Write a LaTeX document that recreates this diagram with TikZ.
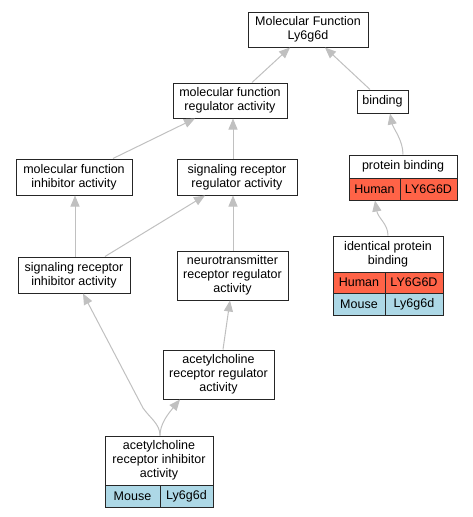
\documentclass[tikz,border=0pt]{standalone}
\usepackage{fontspec}
\setmainfont{Liberation Sans}
\usetikzlibrary{arrows.meta}
\definecolor{edgegray}{HTML}{C0C0C0}
\definecolor{human}{HTML}{FF6347}
\definecolor{mouse}{HTML}{ADD8E6}
\begin{document}
\begin{tikzpicture}[x=1pt,y=-1pt,
  font=\fontsize{12.5}{14}\selectfont,
  box/.style={draw=black!85,line width=1pt,fill=white,align=center,inner sep=0pt},
  hcell/.style={box,fill=human,minimum height=21pt},
  mcell/.style={box,fill=mouse,minimum height=22pt},
  edge/.style={draw=edgegray,line width=1pt,-{Triangle[length=11pt,width=9pt]}}]
\useasboundingbox (0,0) rectangle (472,517);
% nodes
\node[box,minimum width=120pt,minimum height=35pt] (mf) at (308,29.5) {Molecular Function\\Ly6g6d};
\node[box,minimum width=114pt,minimum height=35pt] (mfra) at (230,100.5) {molecular function\\regulator activity};
\node[box,minimum width=51pt,minimum height=23pt] (binding) at (382.5,101.5) {binding};
\node[box,minimum width=116pt,minimum height=36pt] (mfia) at (74,177) {molecular function\\inhibitor activity};
\node[box,minimum width=120pt,minimum height=36pt] (srra) at (237,177) {signaling receptor\\regulator activity};
\node[box,minimum width=112pt,minimum height=36pt] (sria) at (74,275) {signaling receptor\\inhibitor activity};
\node[box,minimum width=111pt,minimum height=49pt] (ntrra) at (232.5,275.5) {neurotransmitter\\receptor regulator\\activity};
\node[box,minimum width=111pt,minimum height=49pt] (acrra) at (218.5,374.5) {acetylcholine\\receptor regulator\\activity};
% protein binding
\node[box,minimum width=108pt,minimum height=23pt] (pb) at (403,166.5) {protein binding};
\node[hcell,minimum width=51pt,minimum height=22pt] (pbh) at (374.5,189) {Human};
\node[hcell,minimum width=57pt,minimum height=22pt] (pbg) at (428.5,189) {LY6G6D};
% identical protein binding
\node[box,minimum width=110pt,minimum height=36pt] (ipb) at (388,254) {identical protein\\binding};
\node[hcell,minimum width=52pt] (ipbh) at (359,282.5) {Human};
\node[hcell,minimum width=58pt] (ipbg) at (414,282.5) {LY6G6D};
\node[mcell,minimum width=52pt] (ipbm) at (359,304) {Mouse};
\node[mcell,minimum width=58pt] (ipbmg) at (414,304) {Ly6g6d};
% acetylcholine receptor inhibitor activity
\node[box,minimum width=108pt,minimum height=49pt] (acria) at (159,460.5) {acetylcholine\\receptor inhibitor\\activity};
\node[mcell,minimum width=55pt] (acriam) at (132.5,496) {Mouse};
\node[mcell,minimum width=53pt] (acriag) at (186.5,496) {Ly6g6d};
% edges
\draw[edge] ([xshift=22pt]mfra.north) -- ([xshift=-18pt]mf.south);
\draw[edge] ([xshift=-12.5pt]binding.north) -- ([xshift=17pt]mf.south);
\draw[edge] ([xshift=39pt]mfia.north) -- ([xshift=-35pt]mfra.south);
\draw[edge] ([xshift=-4pt]srra.north) -- ([xshift=3pt]mfra.south);
\draw[edge] ([xshift=1pt]sria.north) -- ([xshift=1pt]mfia.south);
\draw[edge] ([xshift=31pt]sria.north) -- ([xshift=-32pt]srra.south);
\draw[edge] ([xshift=0.5pt]ntrra.north) -- ([xshift=-4pt]srra.south);
\draw[edge] ([xshift=4.5pt]acrra.north) -- ([xshift=-2.5pt]ntrra.south);
\draw[edge] ([xshift=1pt]acria.north) .. controls (160,424) and (150,418) .. (143,408) -- ([xshift=9pt]sria.south);
\draw[edge] ([xshift=1pt]acria.north) .. controls (160,424) and (168,414) .. ([xshift=-38.5pt]acrra.south);
\draw[edge] (ipb.north) .. controls (388,224) and (378,218) .. ([xshift=0.5pt]pbh.south);
\draw[edge] (pb.north) .. controls (403,140) and (393,128) .. ([xshift=7.5pt]binding.south);
\end{tikzpicture}
\end{document}
